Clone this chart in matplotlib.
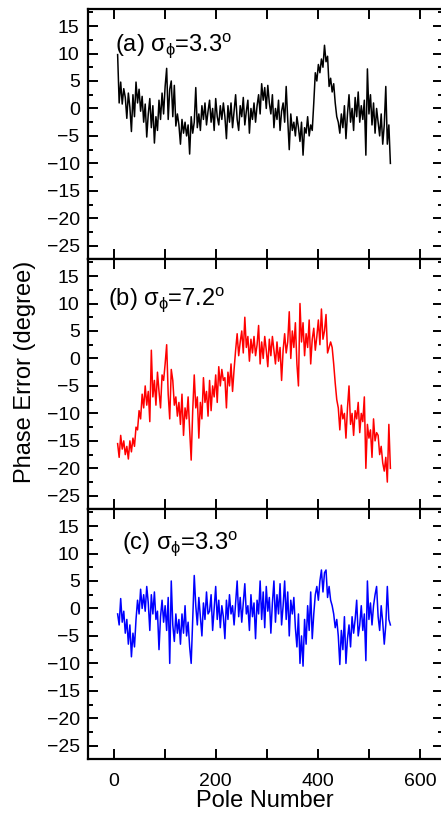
import numpy as np
import matplotlib
matplotlib.use("Agg")
import matplotlib.pyplot as plt
from matplotlib.ticker import MultipleLocator

plt.rcParams['font.family'] = ['Liberation Sans', 'DejaVu Sans']
plt.rcParams['mathtext.fontset'] = 'custom'
plt.rcParams['mathtext.rm'] = 'Liberation Sans'
plt.rcParams['mathtext.it'] = 'Liberation Sans'
plt.rcParams['mathtext.bf'] = 'Liberation Sans:bold'

# Pole numbers (every 3rd pole sampled from the trace)
poles = np.arange(8, 543, 3)

phase_a = [
    9.8, 1.0, 4.8, 0.8, 3.6, 2.0, -1.8, 2.8, 0.2, -4.2,
    2.5, -1.5, 4.8, 1.0, 3.5, -0.5, 2.2, -2.5, 0.8, -5.2,
    -1.0, 1.8, -3.5, 0.5, -6.3, -1.5, -4.0, 1.5, -2.0, 2.8,
    -1.0, 4.0, 7.3, -2.0, 3.5, 5.0, -1.5, 4.2, -3.2, -1.0,
    -3.0, -6.5, -2.0, -4.5, -2.5, -5.0, -3.0, -8.3, -1.5, -4.5,
    -2.5, 3.8, -3.5, -1.0, -4.0, 0.5, -2.0, 1.0, -3.0, -0.5,
    1.5, -2.5, 0.0, -4.0, 1.8, -1.5, -3.0, 0.5, -2.0, 1.0,
    -1.5, -5.5, 0.5, -2.5, 1.0, -3.5, -0.5, 2.5, -2.0, -4.0,
    0.5, -1.5, 2.0, -3.0, -0.5, 1.5, -4.5, 0.0, -2.0, 1.0,
    -2.5, 0.5, 2.5, -1.0, 4.5, 1.5, 3.8, 0.0, 4.2, 1.0,
    -1.0, 2.5, -3.5, 0.0, -2.0, 1.5, -4.0, -0.5, 1.0, -2.5,
    4.0, -2.0, -7.5, -1.0, -4.0, -2.5, -5.0, -1.5, -3.5, -6.0,
    -2.5, -8.5, -3.5, -4.5, -1.5, -5.0, -3.0, -4.0, 1.0, 6.5,
    5.0, 8.0, 6.5, 9.0, 7.5, 11.5, 8.5, 9.5, 4.0, 5.5,
    3.0, 4.5, 1.0, -1.5, -2.5, -4.5, -1.0, -3.5, 0.5, -5.5,
    -1.0, 2.5, -2.5, 0.0, -4.0, 2.0, -1.5, 3.0, -2.5, 0.5,
    -2.0, 1.5, -8.5, 7.2, -1.0, 2.5, -3.0, 1.0, -4.5, 0.0,
    -2.5, -5.0, -1.0, -6.5, -3.0, 4.0, -6.5, -3.0, -10.0,
]

phase_b = [
    -15.5, -18.0, -14.0, -16.5, -15.0, -17.5, -16.0, -18.3, -15.0, -17.0,
    -14.5, -16.0, -12.5, -13.0, -9.5, -11.0, -6.5, -9.0, -5.0, -8.5,
    -6.0, -11.5, 1.5, -7.0, -4.0, -8.5, -2.5, -6.0, -9.0, -3.0,
    -4.0, -1.0, 2.5, -6.5, -11.0, -2.0, -4.0, -8.5, -7.0, -10.5,
    -8.0, -12.0, -6.5, -14.0, -9.0, -11.0, -7.0, -13.0, -18.5, -9.5,
    -3.0, -9.0, -7.0, -14.5, -8.0, -11.0, -3.5, -8.0, -6.0, -10.5,
    -4.0, -9.5, -5.0, -7.0, -3.0, -8.0, -1.5, -5.0, -2.0, -4.0,
    -3.5, -9.0, -2.5, -5.0, -1.0, -6.0, -2.0, 1.5, 4.5, 0.5,
    3.0, 5.0, 1.0, 7.5, 2.0, 4.0, -0.5, 3.5, 1.0, 4.0,
    0.5, 2.5, 6.0, -1.0, 3.0, 0.0, 4.0, 1.5, -1.5, 3.5,
    0.5, 4.0, 1.5, -1.0, 3.0, -0.5, 2.0, -4.0, 1.5, 4.5,
    1.0, 3.0, 8.5, 0.0, 5.0, 2.0, 6.5, -1.0, -5.0, 10.0,
    3.0, 6.5, 0.5, 4.5, 2.0, 7.0, -1.0, 3.5, 5.5, 1.5,
    4.0, 7.0, 2.5, 9.0, 3.5, 5.0, 8.0, 1.0, 2.0, 3.0,
    2.0, -1.0, -4.5, -7.5, -9.0, -13.0, -8.5, -11.0, -10.0, -14.5,
    -9.0, -5.0, -12.0, -10.0, -14.0, -9.5, -11.0, -8.0, -13.5, -10.0,
    -11.5, -7.0, -20.0, -12.0, -14.5, -13.0, -18.0, -11.0, -15.0, -13.5,
    -14.0, -17.5, -16.0, -19.0, -20.5, -18.0, -22.5, -12.0, -20.0,
]

phase_c = [
    -1.0, -3.0, 1.8, -2.5, -0.5, -4.5, -2.0, -6.5, -3.0, -8.8,
    -4.5, -7.0, -2.0, 1.5, -1.0, 3.5, 0.0, 2.5, -0.5, 4.0,
    1.0, -4.0, 2.5, -1.0, 3.0, -2.0, -0.5, -7.5, -1.5, 1.5,
    -2.5, 0.5, -4.0, 2.0, -10.0, 5.0, -3.0, -6.0, -1.0, -4.5,
    -2.0, -6.5, -1.0, -4.5, 0.5, -5.0, -2.5, -7.0, -10.0, -2.0,
    6.0, 0.5, -3.0, 2.0, -1.5, -5.0, 1.0, -2.0, 3.0, -1.0,
    -0.5, 2.5, -4.0, 0.0, 4.0, -2.0, 1.5, -3.5, 0.5, -1.5,
    -5.5, 1.5, -2.0, 2.5, -1.0, 0.5, -3.0, 1.0, 5.0, -1.5,
    2.0, -2.5, 1.0, 4.5, -1.0, 0.5, -4.0, 2.5, -1.5, 1.0,
    -5.5, 1.5, -1.0, 5.0, -2.0, 3.0, -3.5, 4.0, -0.5, 2.0,
    -4.5, 1.0, 5.0, -2.5, 2.5, -1.0, 4.5, -3.0, 0.5, 5.0,
    -2.0, 3.0, -5.0, 1.5, -1.0, 2.0, -3.5, -7.0, -1.0, -10.0,
    -5.0, -10.5, -2.0, -6.5, 0.5, -4.0, 3.0, -5.5, -1.0, 2.5,
    4.0, 1.5, 5.0, 7.0, 3.0, 6.5, 7.0, 2.0, 4.0, 1.5,
    0.5, -1.0, -3.5, -2.0, -5.0, -10.2, -4.0, -7.5, -1.5, -10.0,
    -5.5, -3.0, -7.0, -1.5, -4.5, -2.0, 1.5, -5.0, -3.0, 0.5,
    -4.0, -1.0, -9.5, 5.0, -2.0, 1.0, -3.0, 0.5, 2.5, 4.0,
    -1.5, -4.0, 0.5, -2.5, -6.5, -3.0, 4.0, -2.0, -3.0,
]

series = [phase_a, phase_b, phase_c]
colors = ['#000000', '#ff0000', '#0000ff']
labels = [r'(a) $\sigma_{\phi}$=3.3$^{\rm o}$',
          r'(b) $\sigma_{\phi}$=7.2$^{\rm o}$',
          r'(c) $\sigma_{\phi}$=3.3$^{\rm o}$']
label_pos = [(0.075, 0.83), (0.055, 0.815), (0.095, 0.84)]

yticks = [15, 10, 5, 0, -5, -10, -15, -20, -25]
xticks = [0, 200, 400, 600]

W, H = 441, 814
fig = plt.figure(figsize=(W / 100, H / 100), dpi=100)

left = 88 / W
width = 355 / W
ph = 250 / H
bottom0 = (H - 759) / H

axes = []
for k in range(3):
    b = bottom0 + (2 - k) * ph
    ax = fig.add_axes([left, b, width, ph])
    ax.plot(poles, series[k], color=colors[k], lw=1.1)
    ax.set_xlim(-50, 645)
    ax.set_ylim(-27.4, 18.1)
    ax.set_yticks(yticks)
    ax.yaxis.set_minor_locator(MultipleLocator(2.5))
    ax.set_xticks(xticks)
    ax.xaxis.set_minor_locator(MultipleLocator(100))
    ax.tick_params(which='both', direction='in', top=True, right=True,
                   width=1.4, labelsize=14)
    ax.tick_params(which='major', axis='y', length=7)
    ax.tick_params(which='minor', axis='y', length=3.5)
    ax.tick_params(which='both', axis='x', length=7.5)
    ax.tick_params(axis='y', pad=6)
    ax.tick_params(axis='x', pad=10)
    if k < 2:
        ax.tick_params(axis='x', labelbottom=False)
    for s in ax.spines.values():
        s.set_linewidth(1.6)
    ax.text(label_pos[k][0], label_pos[k][1], labels[k], transform=ax.transAxes,
            fontsize=17, ha='left', va='baseline')
    axes.append(ax)

fig.text(25 / W, 1 - 372 / H, 'Phase Error (degree)', rotation=90,
         fontsize=17, ha='center', va='center')
fig.text(265 / W, 1 - 807 / H, 'Pole Number', fontsize=17,
         ha='center', va='baseline')

fig.savefig('out.png', dpi=100)
